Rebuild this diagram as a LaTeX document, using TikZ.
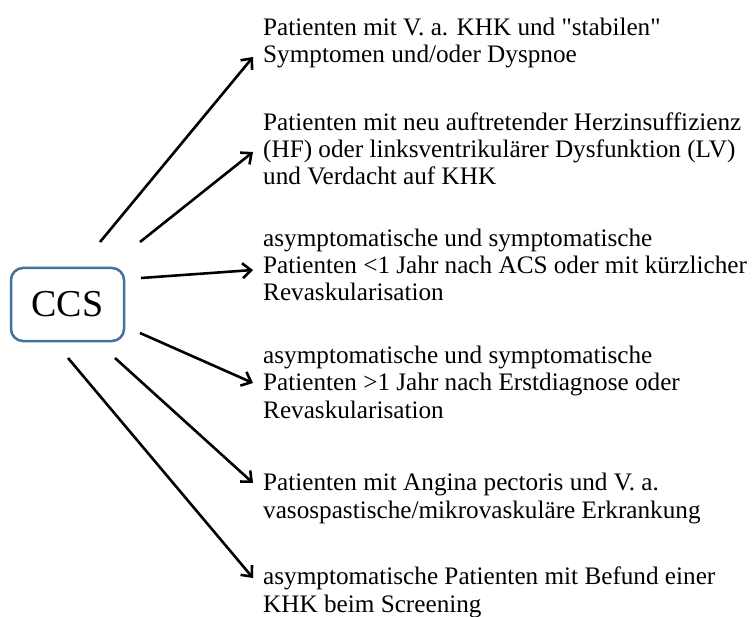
\documentclass[tikz,border=0pt]{standalone}
\usepackage{fontspec}
\setmainfont{Liberation Serif}[Ligatures=TeXOff]
\usetikzlibrary{arrows.meta}
\definecolor{boxblue}{RGB}{65,113,156}

\begin{document}
\begin{tikzpicture}[x=1pt,y=-1pt,
    pfeil/.style={-{Straight Barb[length=8.5pt,width=15pt]},line width=2.6pt},
    gruppe/.style={anchor=base west,align=left,inner sep=0pt,font=\fontsize{25.2}{27.2}\selectfont}]
        \useasboundingbox (0,0) rectangle (754,617);
        % Central box
        \node[draw=boxblue,line width=2.5pt,rounded corners=12pt,minimum width=113pt,minimum height=73pt,
              font=\fontsize{38}{38}\selectfont] (ccs) at (67.5,304.5) {CCS};
        % Patient groups (placed at the baseline of their last line)
        \node[gruppe] (g1) at (263,63) {Patienten mit V. a. KHK und "stabilen"\\Symptomen und/oder Dyspnoe};
        \node[gruppe] (g2) at (263,185) {Patienten mit neu auftretender Herzinsuffizienz\\(HF) oder linksventrikulärer Dysfunktion (LV)\\und Verdacht auf KHK};
        \node[gruppe] (g3) at (263,301) {asymptomatische und symptomatische\\Patienten <1 Jahr nach ACS oder mit kürzlicher\\Revaskularisation};
        \node[gruppe] (g4) at (263,418) {asymptomatische und symptomatische\\Patienten >1 Jahr nach Erstdiagnose oder\\Revaskularisation};
        \node[gruppe] (g5) at (263,518) {Patienten mit Angina pectoris und V. a.\\vasospastische/mikrovaskuläre Erkrankung};
        \node[gruppe] (g6) at (263,612) {asymptomatische Patienten mit Befund einer\\KHK beim Screening};
        % Arrow ends
        \coordinate (s1) at (100,242);  \coordinate (e1) at (253,57);
        \coordinate (s2) at (140,242);  \coordinate (e2) at (253,152);
        \coordinate (s3) at (141,278);  \coordinate (e3) at (253,270);
        \coordinate (s4) at (140,333);  \coordinate (e4) at (253,383);
        \coordinate (s5) at (115,358);  \coordinate (e5) at (253,483);
        \coordinate (s6) at (68,358);   \coordinate (e6) at (253,578);
        % Arrows
        \draw[pfeil] (s1) -- (e1);
        \draw[pfeil] (s2) -- (e2);
        \draw[pfeil] (s3) -- (e3);
        \draw[pfeil] (s4) -- (e4);
        \draw[pfeil] (s5) -- (e5);
        \draw[pfeil] (s6) -- (e6);
\end{tikzpicture}
\end{document}
